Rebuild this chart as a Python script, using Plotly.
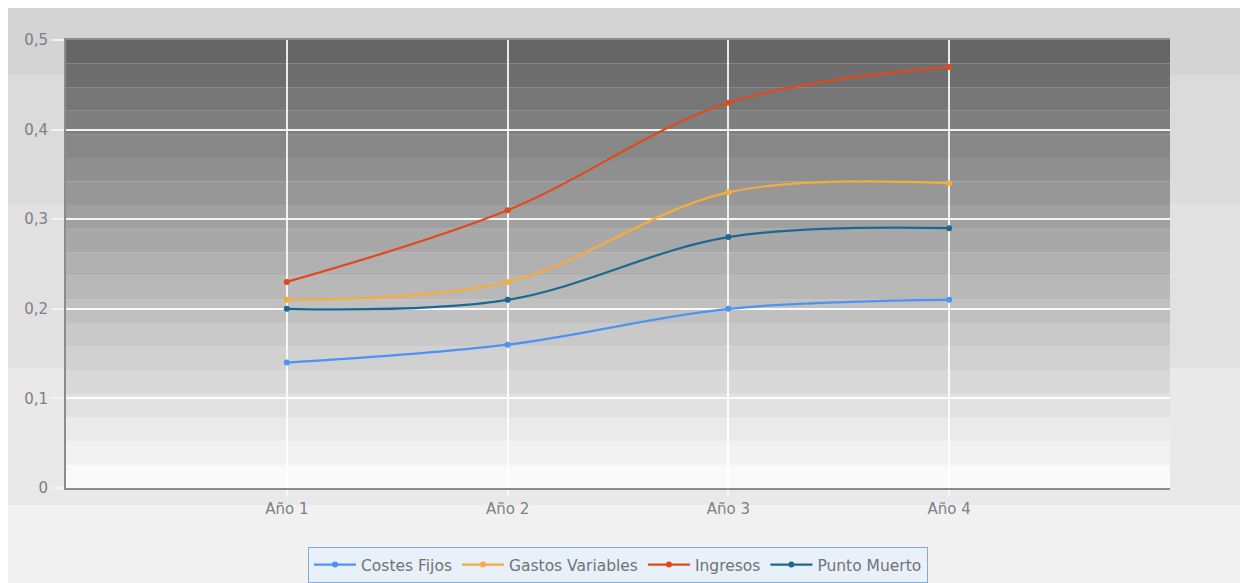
import plotly.graph_objects as go

categories = ["Año 1", "Año 2", "Año 3", "Año 4"]
costes_fijos = [0.14, 0.16, 0.20, 0.21]
gastos_variables = [0.21, 0.23, 0.33, 0.34]
ingresos = [0.23, 0.31, 0.43, 0.47]
punto_muerto = [0.20, 0.21, 0.28, 0.29]

y_tickvals = [0, 0.1, 0.2, 0.3, 0.4, 0.5]
y_ticktext = ["0", "0,1", "0,2", "0,3", "0,4", "0,5"]

series = [
    ("Costes Fijos", costes_fijos, "#4d94f2"),
    ("Gastos Variables", gastos_variables, "#f4ad3d"),
    ("Ingresos", ingresos, "#e04a1b"),
    ("Punto Muerto", punto_muerto, "#1b6892"),
]

# figure sits at page offset (8, 8) because of the body margin
W, H = 1232, 575
ML, MR, MT, MB = 58, 70, 32, 95
PW, PH = W - ML - MR, H - MT - MB


def px_x(px):
    return (px - ML) / PW


def px_y(py):
    return (H - MB - py) / PH


fig = go.Figure()
for name, vals, col in series:
    fig.add_trace(go.Scatter(
        x=categories, y=vals, name=name, mode="lines+markers",
        line=dict(color=col, width=2.2, shape="spline", smoothing=1),
        marker=dict(color=col, size=6),
    ))

shapes = []
# outer background bands (figure coordinates)
outer = [(0, 67, 212), (67, 195, 219), (195, 360, 225), (360, 497, 233), (497, 575, 241)]
for y0, y1, g in outer:
    shapes.append(dict(type="rect", xref="paper", yref="paper",
                       x0=px_x(0), x1=px_x(W), y0=px_y(y1), y1=px_y(y0),
                       fillcolor=f"rgb({g},{g},{g})", line=dict(width=0), layer="below"))
# plot area gradient bands
n = 19
for i in range(n):
    g = round(102 + (250 - 102) * i / (n - 1))
    shapes.append(dict(type="rect", xref="paper", yref="paper",
                       x0=0, x1=1, y0=1 - (i + 1) / n, y1=1 - i / n,
                       fillcolor=f"rgb({g},{g},{g})", line=dict(width=0), layer="below"))

font = dict(family="DejaVu Sans", size=15, color="#7d8087")

yaxis_common = dict(
    range=[0, 0.5], tickvals=y_tickvals, ticktext=y_ticktext,
    ticks="outside", ticklen=13, tickwidth=2, tickcolor="#f2f2f2",
    tickfont=font, zeroline=False, showline=True, linecolor="#8c8c8c", linewidth=2,
)

fig.update_layout(
    width=W, height=H,
    margin=dict(l=ML, r=MR, t=MT, b=MB),
    paper_bgcolor="white", plot_bgcolor="rgba(0,0,0,0)",
    shapes=shapes,
    xaxis=dict(range=[-1, 4], type="category", tickfont=font,
               ticks="outside", ticklen=6, tickwidth=2, tickcolor="#f8f8f8",
               showgrid=True, gridcolor="rgba(255,255,255,0.85)", gridwidth=2,
               showline=True, linecolor="#8c8c8c", linewidth=2, mirror=True,
               zeroline=False),
    yaxis=dict(**yaxis_common, showgrid=True, gridcolor="rgba(255,255,255,0.9)", gridwidth=2),
    yaxis2=dict(**yaxis_common, overlaying="y", side="right", matches="y", showgrid=False),
    legend=dict(orientation="h", x=0.5, xanchor="center",
                yref="container", y=(H - 539) / H, yanchor="top",
                itemwidth=42,
                bgcolor="#e8f0fa", bordercolor="#88aad4", borderwidth=1,
                font=dict(family="DejaVu Sans", size=15.5, color="#737373")),
    showlegend=True,
)

fig.write_html("out.html")
